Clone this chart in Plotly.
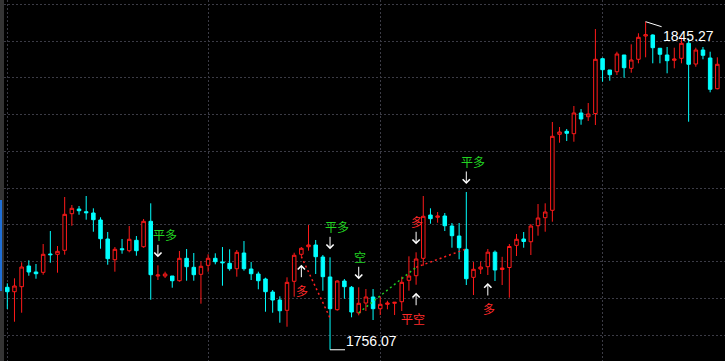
import plotly.graph_objects as go

# ---------------- data ----------------
open_ = [1773.06, 1771.86, 1773.22, 1778.85, 1777.22, 1777.13, 1782.11, 1782.03, 1783.12, 1793.07,
         1794.34, 1793.61, 1793.26, 1791.35, 1786.19, 1780.56, 1783.55, 1783.01, 1785.83, 1784.09,
         1791.00, 1776.13, 1776.13, 1776.13, 1774.85, 1780.94, 1778.49, 1776.59, 1779.04, 1780.94,
         1779.93, 1779.58, 1778.11, 1782.38, 1778.03, 1776.67, 1775.31, 1771.78, 1769.60, 1766.80,
         1774.69, 1782.03, 1784.09, 1784.56, 1781.29, 1775.86, 1766.97, 1774.77, 1773.06, 1766.10,
         1768.79, 1770.42, 1767.24, 1768.43, 1768.71, 1769.14, 1774.96, 1776.21, 1780.94, 1792.71,
         1792.09, 1792.44, 1789.72, 1787.00, 1783.39, 1775.77, 1778.03, 1778.66, 1782.60, 1777.90,
         1778.44, 1784.47, 1786.19, 1785.45, 1789.80, 1791.98, 1793.99, 1814.65, 1815.47, 1814.82,
         1820.45, 1819.44, 1820.31, 1835.21, 1832.14, 1831.67, 1836.22, 1832.60, 1835.05, 1841.38,
         1841.65, 1838.04, 1836.22, 1834.77, 1835.32, 1839.40, 1833.77, 1837.57, 1835.40, 1827.05]
high = [1774.14, 1775.50, 1779.85, 1780.40, 1779.39, 1784.83, 1788.36, 1784.28, 1797.61, 1795.43,
        1795.16, 1797.88, 1794.53, 1792.09, 1788.09, 1784.01, 1786.19, 1789.72, 1787.00, 1791.63,
        1795.89, 1779.04, 1777.30, 1776.13, 1782.93, 1783.47, 1782.38, 1780.12, 1782.03, 1782.30,
        1784.01, 1783.39, 1783.20, 1785.64, 1779.93, 1777.30, 1775.67, 1772.32, 1770.61, 1775.77,
        1782.46, 1784.01, 1789.99, 1785.92, 1781.84, 1781.21, 1774.96, 1775.31, 1773.41, 1773.06,
        1772.59, 1772.59, 1770.50, 1769.41, 1768.98, 1775.94, 1781.48, 1782.57, 1797.88, 1794.53,
        1793.53, 1793.26, 1790.54, 1790.54, 1798.97, 1779.93, 1780.07, 1783.47, 1783.06, 1781.35,
        1784.83, 1787.55, 1788.09, 1790.27, 1795.70, 1795.89, 1818.00, 1816.64, 1816.10, 1822.35,
        1821.53, 1823.16, 1843.28, 1835.48, 1832.14, 1837.11, 1836.22, 1839.12, 1842.12, 1845.27,
        1841.84, 1838.04, 1838.39, 1838.20, 1841.03, 1840.76, 1838.20, 1838.39, 1837.11, 1835.59]
low = [1767.16, 1763.70, 1766.15, 1776.21, 1775.39, 1776.48, 1779.74, 1777.03, 1781.92, 1789.80,
       1792.79, 1791.44, 1788.17, 1783.55, 1779.20, 1777.30, 1782.19, 1782.57, 1781.65, 1783.82,
       1769.68, 1775.04, 1775.58, 1772.95, 1774.58, 1774.85, 1774.85, 1768.60, 1777.30, 1779.31,
       1773.49, 1777.57, 1775.94, 1777.57, 1775.04, 1772.51, 1766.42, 1766.15, 1763.43, 1762.34,
       1770.50, 1781.38, 1783.01, 1776.67, 1772.13, 1756.07, 1766.69, 1769.96, 1764.90, 1765.44,
       1766.61, 1764.16, 1765.52, 1767.07, 1765.52, 1766.61, 1772.13, 1773.76, 1778.93, 1790.35,
       1790.62, 1788.36, 1783.82, 1780.67, 1773.68, 1770.96, 1776.67, 1776.40, 1774.77, 1773.68,
       1770.23, 1781.57, 1783.82, 1781.84, 1787.09, 1788.17, 1790.89, 1812.37, 1812.83, 1812.64,
       1817.26, 1818.27, 1817.18, 1828.96, 1829.23, 1830.78, 1830.04, 1831.40, 1833.96, 1835.59,
       1833.96, 1833.96, 1831.24, 1832.60, 1833.96, 1818.08, 1833.03, 1835.05, 1826.07, 1826.89]
close = [1771.86, 1773.41, 1778.57, 1777.22, 1776.75, 1782.03, 1781.92, 1782.84, 1792.90, 1794.53,
         1793.88, 1793.34, 1791.44, 1786.27, 1780.83, 1783.39, 1783.28, 1786.11, 1783.01, 1791.00,
         1776.48, 1776.40, 1776.67, 1774.85, 1780.94, 1778.66, 1776.48, 1778.77, 1780.94, 1780.02,
         1779.74, 1778.11, 1782.57, 1778.11, 1776.75, 1774.85, 1771.86, 1769.60, 1766.69, 1774.41,
         1781.76, 1783.66, 1784.56, 1781.38, 1775.94, 1767.24, 1774.77, 1773.22, 1766.34, 1768.71,
         1770.42, 1767.24, 1768.43, 1768.79, 1768.98, 1774.41, 1776.13, 1780.75, 1792.36, 1791.71,
         1792.44, 1789.80, 1787.09, 1783.82, 1775.39, 1777.95, 1778.57, 1782.60, 1777.76, 1778.30,
         1784.15, 1786.11, 1785.51, 1789.72, 1791.90, 1793.53, 1814.11, 1815.28, 1814.93, 1820.45,
         1818.81, 1820.17, 1835.05, 1832.22, 1830.86, 1836.49, 1832.76, 1834.86, 1841.03, 1841.73,
         1838.20, 1836.41, 1834.67, 1835.13, 1839.40, 1833.69, 1837.57, 1836.13, 1826.89, 1833.69]

# trading signals: bar index, label, side of the bar
signal_index = [21, 41, 45, 49, 57, 57, 64, 67]
signal_label = ["平多", "多", "平多", "空", "多", "平空", "平多", "多"]
signal_side = ["above", "below", "above", "above", "above", "below", "above", "below"]

# trade connection lines: entry bar/price -> exit bar/price
trade_entry_index = [41, 49, 57]
trade_entry_price = [1781.4, 1766.1, 1778.5]
trade_exit_index = [45, 57, 64]
trade_exit_price = [1764.7, 1778.5, 1783.5]
trade_direction = ["long", "short", "long"]

# session separators (vertical grid)
session_start_index = [0, 28, 52, 83]

# ---------------- styling ----------------
RED = "#ff1a1a"
CYAN = "#00ffff"
TXT_GREEN = "#22d422"
TXT_RED = "#ff2a2a"
GRID = "#3b3b45"

x = list(range(len(open_)))

fig = go.Figure()
fig.add_trace(go.Candlestick(
    x=x, open=open_, high=high, low=low, close=close,
    increasing=dict(line=dict(color=RED, width=1), fillcolor="#000000"),
    decreasing=dict(line=dict(color=CYAN, width=1), fillcolor=CYAN),
    whiskerwidth=0, hoverinfo="skip", showlegend=False,
))

for ei, ep, xi, xp, d in zip(trade_entry_index, trade_entry_price, trade_exit_index,
                             trade_exit_price, trade_direction):
    fig.add_trace(go.Scatter(
        x=[ei, xi], y=[ep, xp], mode="lines",
        line=dict(color="#ff2020" if d == "long" else "#22cc22", width=1.5, dash="2px,3px"),
        hoverinfo="skip", showlegend=False,
    ))

annotations = []
GAP, ALEN = 8, 14
for idx, lab, side in zip(signal_index, signal_label, signal_side):
    col = TXT_GREEN if lab in ("平多", "空") else TXT_RED
    if side == "above":
        yv = high[idx]
        annotations.append(dict(x=idx, y=yv, xref="x", yref="y", text="", showarrow=True,
                                ax=0, ay=-ALEN, yshift=GAP, arrowhead=4, arrowsize=1.4,
                                arrowwidth=1, arrowcolor="#ffffff", standoff=0))
        annotations.append(dict(x=idx, y=yv, xref="x", yref="y", text=lab, showarrow=False,
                                xanchor="left", yanchor="bottom", xshift=-6,
                                yshift=GAP + ALEN - 1, borderpad=0,
                                font=dict(family="Noto Sans CJK SC", size=12, color=col)))
    else:
        yv = low[idx]
        annotations.append(dict(x=idx, y=yv, xref="x", yref="y", text="", showarrow=True,
                                ax=0, ay=ALEN, yshift=-GAP, arrowhead=4, arrowsize=1.4,
                                arrowwidth=1, arrowcolor="#ffffff", standoff=0))
        annotations.append(dict(x=idx, y=yv, xref="x", yref="y", text=lab, showarrow=False,
                                xanchor="left", yanchor="top",
                                xshift=-6 if len(lab) == 1 else -16,
                                yshift=-(GAP + ALEN + 2), borderpad=0,
                                font=dict(family="Noto Sans CJK SC", size=12, color=col)))

# max / min price labels
imax = max(range(len(high)), key=lambda i: high[i])
imin = min(range(len(low)), key=lambda i: low[i])
lab_font = dict(family="Liberation Sans Narrow, Liberation Sans, Arial", size=14, color="#ffffff")
annotations.append(dict(x=imax, y=high[imax], xref="x", yref="y", text=f"{high[imax]:.2f}",
                        showarrow=True, arrowhead=0, arrowwidth=1, arrowcolor="#ffffff",
                        ax=16, ay=5, xanchor="left", yanchor="top", borderpad=0, font=lab_font))
annotations.append(dict(x=imin, y=low[imin], xref="x", yref="y", text=f"{low[imin]:.2f}",
                        showarrow=True, arrowhead=0, arrowwidth=1, arrowcolor="#ffffff",
                        ax=15, ay=0, xanchor="left", yanchor="bottom", borderpad=0, font=lab_font))

W, H = 725, 361
shapes = [
    dict(type="rect", xref="paper", yref="paper", x0=0, x1=4 / W, y0=0, y1=1,
         fillcolor="#343434", line=dict(width=0), layer="above"),
    dict(type="rect", xref="paper", yref="paper", x0=0, x1=2 / W, y0=1 - 291 / H, y1=1 - 200 / H,
         fillcolor="#1f6fd6", line=dict(width=0), layer="above"),
]

fig.update_layout(
    width=W, height=H, margin=dict(l=0, r=0, t=0, b=0),
    paper_bgcolor="#000000", plot_bgcolor="#000000",
    showlegend=False, annotations=annotations, shapes=shapes,
    xaxis=dict(range=[-1.018, 100.07], rangeslider=dict(visible=False),
               tickmode="array", tickvals=session_start_index, showticklabels=False,
               showgrid=True, gridcolor=GRID, griddash="2px,2px", gridwidth=1,
               zeroline=False, showline=False, ticks=""),
    yaxis=dict(range=[1753.02, 1851.17], tick0=1760, dtick=10, showticklabels=False,
               showgrid=True, gridcolor=GRID, griddash="2px,2px", gridwidth=1,
               zeroline=False, showline=False, ticks=""),
)

fig.write_html("out.html")
